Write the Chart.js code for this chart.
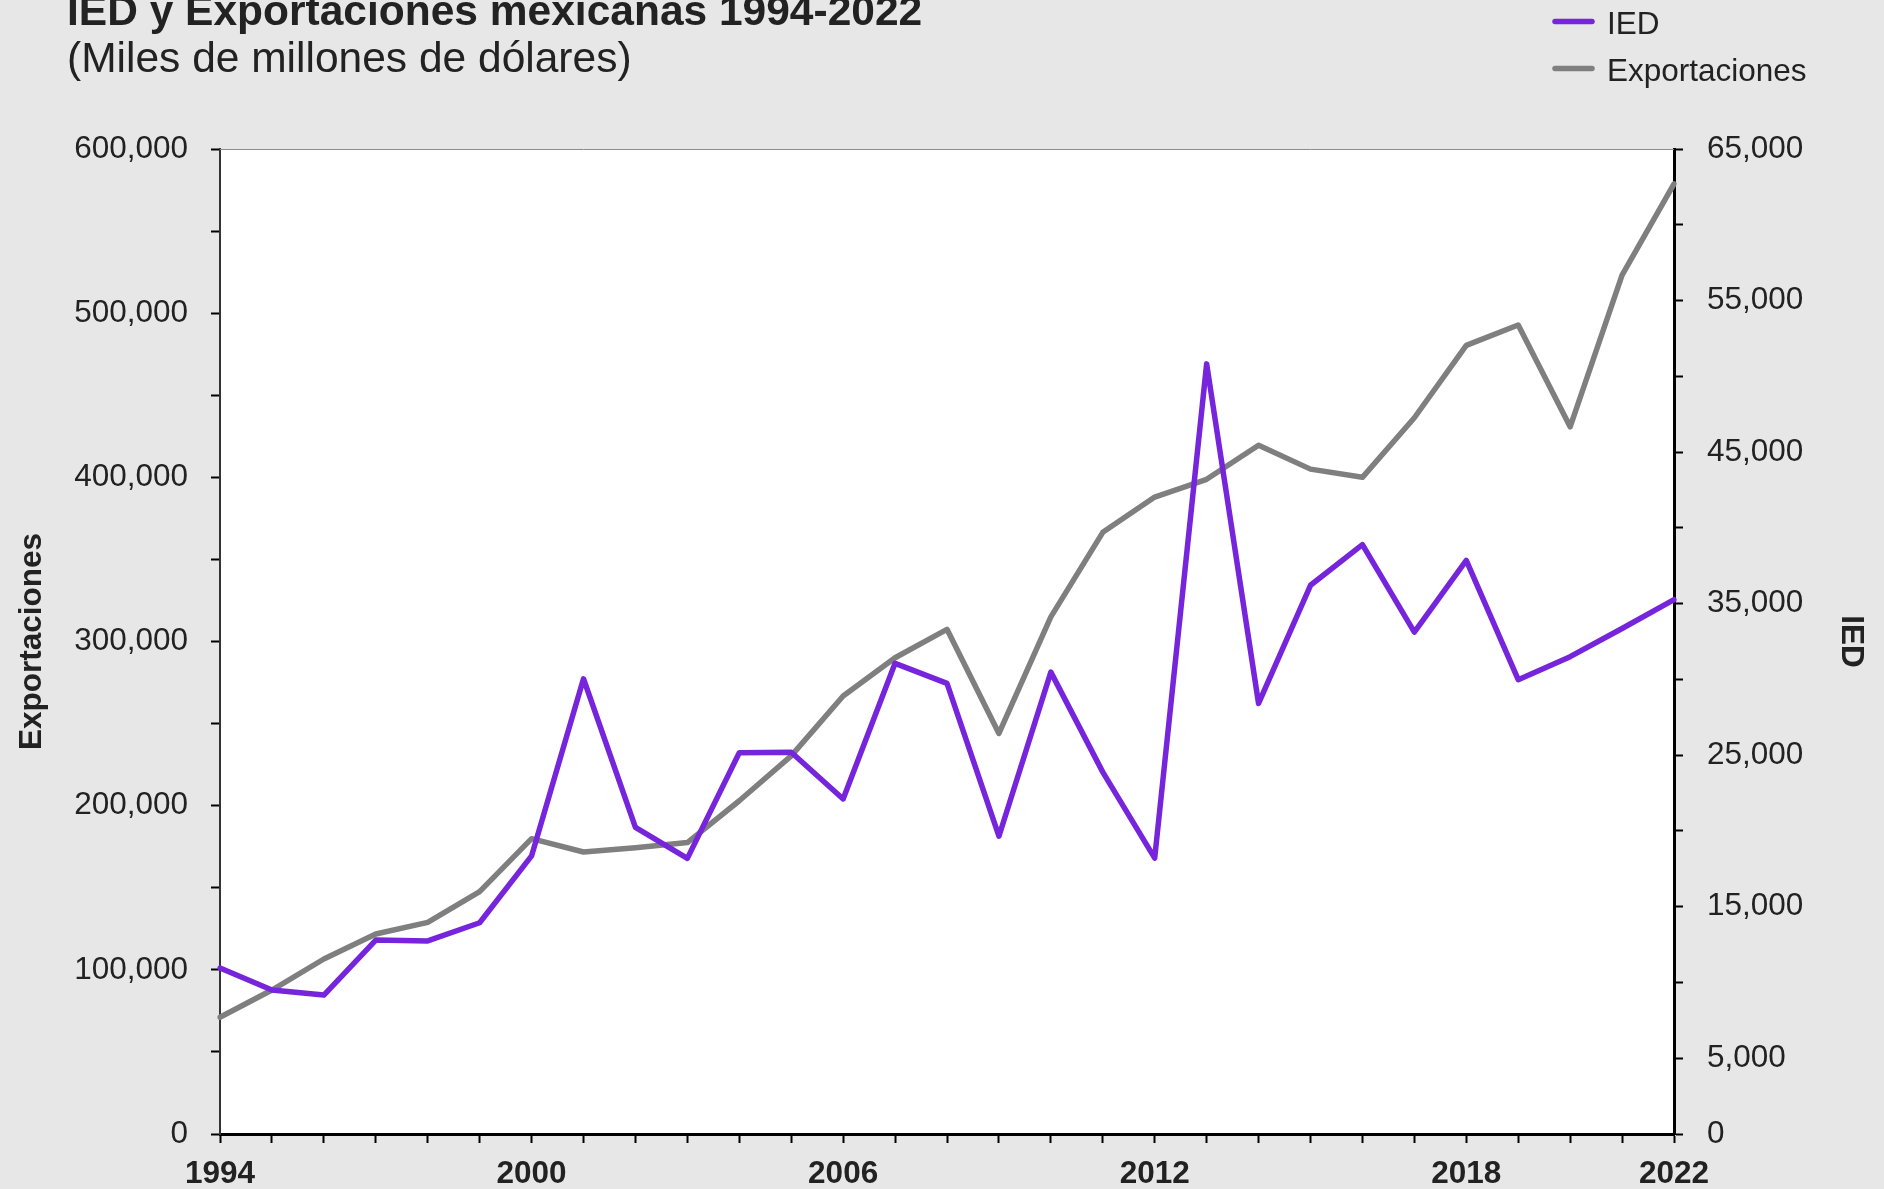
<!DOCTYPE html>
<html>
<head>
<meta charset="utf-8">
<script src="https://cdn.jsdelivr.net/npm/chart.js@4.4.1/dist/chart.umd.min.js"></script>
<style>
  html, body { margin: 0; padding: 0; background: #e7e7e7; }
  canvas { display: block; }
</style>
</head>
<body>
<canvas id="chart" width="1884" height="1189"></canvas>
<script>
const years = [1994, 1995, 1996, 1997, 1998, 1999, 2000, 2001, 2002, 2003, 2004, 2005, 2006, 2007,
    2008, 2009, 2010, 2011, 2012, 2013, 2014, 2015, 2016, 2017, 2018, 2019, 2020, 2021, 2022]
const shownYears = [1994, 2000, 2006, 2012, 2018, 2022]

// IED (eje derecho)
const ied = [10950, 9500, 9170, 12800, 12740, 13940, 18350, 30040, 20240, 18190, 25160, 25190, 22110, 31060,
    29740, 19650, 30480, 23880, 18210, 50820, 28410, 36210, 38890, 33120, 37850, 29980, 31500, 33360, 35260]

// Exportaciones (eje izquierdo)
const exportaciones = [71100, 87700, 106600, 121800, 128900, 147600, 179900, 171800, 174400, 177500, 203000, 230300, 266800, 290100,
    307400, 244000, 315000, 366500, 388000, 398800, 419500, 405000, 400000, 436300, 480400, 492800, 430800, 523200, 578800]

const title = 'IED y Exportaciones mexicanas 1994-2022'
const subtitle = '(Miles de millones de dólares)'

const FONT = '"Liberation Sans", Arial, sans-serif'
const TEXT = '#222222'
const PURPLE = '#7625dc'
const GREY = '#7f7f7f'

const fmt = (v) => v.toLocaleString('en-US')

// fondo blanco del área, borde superior, título y leyenda
const decorations = {
    id: 'decorations',
    beforeDraw(chart) {
        const { ctx, chartArea: a } = chart
        ctx.save()
        ctx.fillStyle = '#ffffff'
        ctx.fillRect(a.left, a.top, a.right - a.left, a.bottom - a.top)
        ctx.restore()
    },
    beforeDatasetsDraw(chart) {
        const { ctx, chartArea: a } = chart
        ctx.save()
        ctx.strokeStyle = '#8c8c8c'
        ctx.lineWidth = 1
        ctx.beginPath()
        ctx.moveTo(a.left, a.top + 0.5)
        ctx.lineTo(a.right, a.top + 0.5)
        ctx.stroke()
        ctx.restore()
    },
    afterDraw(chart) {
        const ctx = chart.ctx
        ctx.save()
        ctx.fillStyle = TEXT
        ctx.textBaseline = 'alphabetic'
        ctx.textAlign = 'left'
        ctx.font = 'bold 42.5px ' + FONT
        ctx.fillText(title, 67, 25)
        ctx.font = '42.5px ' + FONT
        ctx.fillText(subtitle, 67, 72)

        // leyenda
        const rows = [34, 81]
        chart.data.datasets.forEach((ds, i) => {
            const base = rows[i]
            ctx.strokeStyle = ds.borderColor
            ctx.lineWidth = 5.5
            ctx.lineCap = 'round'
            ctx.beginPath()
            ctx.moveTo(1555, base - 12.5)
            ctx.lineTo(1592, base - 12.5)
            ctx.stroke()
            ctx.fillStyle = TEXT
            ctx.font = '31.5px ' + FONT
            ctx.fillText(ds.label, 1607, base)
        })
        ctx.restore()
    }
}

const tickGrid = { drawOnChartArea: false, drawTicks: true, tickLength: 9, tickWidth: 2, tickColor: '#000000' }

new Chart(document.getElementById('chart'), {
    type: 'line',
    data: {
        labels: years,
        datasets: [
            { label: 'IED', data: ied, yAxisID: 'y1', borderColor: PURPLE, backgroundColor: PURPLE },
            { label: 'Exportaciones', data: exportaciones, yAxisID: 'y', borderColor: GREY, backgroundColor: GREY }
        ]
    },
    options: {
        responsive: false,
        animation: false,
        devicePixelRatio: 1,
        layout: { padding: { top: 149, left: 0, right: 0, bottom: 0 } },
        elements: {
            line: { borderWidth: 5.5, tension: 0, borderJoinStyle: 'round', borderCapStyle: 'round' },
            point: { radius: 0, hoverRadius: 0 }
        },
        plugins: {
            legend: { display: false },
            title: { display: false },
            tooltip: { enabled: false }
        },
        scales: {
            x: {
                type: 'category',
                offset: false,
                grid: tickGrid,
                border: { display: true, color: '#000000', width: 3 },
                ticks: {
                    autoSkip: false,
                    maxRotation: 0,
                    minRotation: 0,
                    padding: 12,
                    color: TEXT,
                    font: { family: FONT, size: 31.5, weight: 'bold' },
                    callback: (v, i) => shownYears.includes(years[i]) ? String(years[i]) : ''
                },
                afterFit: (s) => { s.height = 55 }
            },
            y: {
                position: 'left',
                min: 0,
                max: 600000,
                grid: tickGrid,
                border: { display: true, color: '#333333', width: 2 },
                ticks: {
                    stepSize: 50000,
                    padding: 23,
                    color: TEXT,
                    font: { family: FONT, size: 31.5 },
                    callback: (v) => v % 100000 === 0 ? fmt(v) : ''
                },
                title: {
                    display: true,
                    text: 'Exportaciones',
                    color: TEXT,
                    font: { family: FONT, size: 31.5, weight: 'bold' },
                    padding: { top: 13, bottom: 0 }
                },
                afterFit: (s) => { s.width = 220 }
            },
            y1: {
                position: 'right',
                min: 0,
                max: 65000,
                grid: tickGrid,
                border: { display: true, color: '#000000', width: 3 },
                ticks: {
                    stepSize: 5000,
                    padding: 24,
                    color: TEXT,
                    font: { family: FONT, size: 31.5 },
                    callback: (v) => (v === 0 || (v / 5000) % 2 === 1) ? fmt(v) : ''
                },
                title: {
                    display: true,
                    text: 'IED',
                    color: TEXT,
                    font: { family: FONT, size: 31.5, weight: 'bold' },
                    padding: { top: 14, bottom: 0 }
                },
                afterFit: (s) => { s.width = 210 }
            }
        }
    },
    plugins: [decorations]
})
</script>
</body>
</html>
